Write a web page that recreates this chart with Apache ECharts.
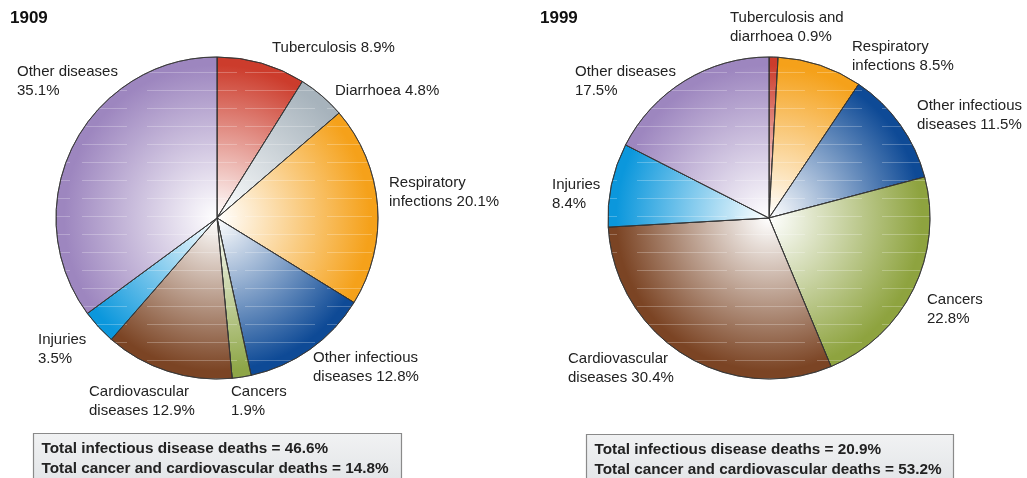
<!DOCTYPE html>
<html>
<head>
<meta charset="utf-8">
<script src="https://cdn.jsdelivr.net/npm/echarts@6/dist/echarts.min.js"></script>
<style>
  html, body { margin: 0; padding: 0; background: #fff; }
  #chart { width: 1027px; height: 478px; }
</style>
</head>
<body>
<div id="chart"></div>
<script>
// 1909
var names1909 = ['Tuberculosis', 'Diarrhoea', 'Respiratory infections', 'Other infectious diseases', 'Cancers', 'Cardiovascular diseases', 'Injuries', 'Other diseases'];
var labels1909 = ['Tuberculosis', 'Diarrhoea', 'Respiratory\ninfections', 'Other infectious\ndiseases', 'Cancers', 'Cardiovascular\ndiseases', 'Injuries', 'Other diseases'];
var seps1909 = [' ', ' ', ' ', ' ', '\n', ' ', '\n', '\n'];
var values1909 = [8.9, 4.8, 20.1, 12.8, 1.9, 12.9, 3.5, 35.1];
var colors1909 = ['#cc3c2c', '#a7b3bc', '#f5a11a', '#0e4a96', '#8ea647', '#7b4424', '#0b97dc', '#9d86bf'];
var totals1909 = ['Total infectious disease deaths = 46.6%', 'Total cancer and cardiovascular deaths = 14.8%'];

// 1999
var names1999 = ['Tuberculosis and diarrhoea', 'Respiratory infections', 'Other infectious diseases', 'Cancers', 'Cardiovascular diseases', 'Injuries', 'Other diseases'];
var labels1999 = ['Tuberculosis and\ndiarrhoea', 'Respiratory\ninfections', 'Other infectious\ndiseases', 'Cancers', 'Cardiovascular\ndiseases', 'Injuries', 'Other diseases'];
var seps1999 = [' ', ' ', ' ', '\n', ' ', '\n', '\n'];
var values1999 = [0.9, 8.5, 11.5, 22.8, 30.4, 8.4, 17.5];
var colors1999 = ['#cc3c2c', '#f5a11a', '#0e4a96', '#8ea33f', '#7b4424', '#0b97dc', '#9d86bf'];
var totals1999 = ['Total infectious disease deaths = 20.9%', 'Total cancer and cardiovascular deaths = 53.2%'];

// label top-left positions
var pos1909 = [[272, 38], [335, 81], [389, 173], [313, 348], [231, 382], [89, 382], [38, 330], [17, 62]];
var pos1999 = [[730, 8], [852, 37], [917, 96], [927, 290], [568, 349], [552, 175], [575, 62]];

var R = 161;
var C1 = [217, 218];
var C2 = [769, 218];
var FONT = 'Liberation Sans, Arial, sans-serif';

var decal = {
    symbol: 'rect',
    symbolSize: 1,
    dashArrayX: [[70, 12, 45, 20, 90, 8]],
    dashArrayY: [1, 17],
    color: 'rgba(255,255,255,0.25)'
};

function buildData(names, values, colors, c) {
    var out = [];
    for (var i = 0; i < names.length; i++) {
        out.push({
            name: names[i],
            value: values[i],
            itemStyle: {
                color: {
                    type: 'radial', x: c[0], y: c[1], r: R, global: true,
                    colorStops: [
                        { offset: 0, color: '#ffffff' },
                        { offset: 0.12, color: echarts.color.lerp(0.12, ['#ffffff', colors[i]]) },
                        { offset: 0.95, color: colors[i] },
                        { offset: 1, color: colors[i] }
                    ]
                },
                decal: decal
            }
        });
    }
    return out;
}

function buildLabels(labels, seps, values, pos) {
    var out = [];
    for (var i = 0; i < labels.length; i++) {
        out.push({
            type: 'text',
            left: pos[i][0],
            top: pos[i][1],
            style: {
                text: labels[i] + seps[i] + values[i].toFixed(1) + '%',
                fontFamily: FONT,
                fontSize: 15,
                lineHeight: 19,
                fill: '#222'
            }
        });
    }
    return out;
}

function buildBox(x, y, w, lines) {
    return [{
        type: 'rect',
        shape: { x: x, y: y, width: w, height: 60 },
        style: {
            fill: {
                type: 'linear', x: 0, y: 0, x2: 0, y2: 1,
                colorStops: [{ offset: 0, color: '#f1f2f3' }, { offset: 1, color: '#dfe2e5' }]
            },
            stroke: '#8a8a8a',
            lineWidth: 1.2
        }
    }, {
        type: 'text',
        left: x + 8,
        top: y + 5,
        style: {
            text: lines.join('\n'),
            fontFamily: FONT,
            fontSize: 15.3,
            fontWeight: 'bold',
            lineHeight: 20,
            fill: '#222'
        }
    }];
}

var chart = echarts.init(document.getElementById('chart'));

var pieBase = {
    type: 'pie',
    radius: R,
    startAngle: 90,
    clockwise: true,
    silent: true,
    animation: false,
    label: { show: false },
    labelLine: { show: false },
    itemStyle: { borderColor: '#333', borderWidth: 0.8 }
};

var graphics = [
    { type: 'text', left: 10, top: 10, style: { text: '1909', fontFamily: FONT, fontSize: 17, fontWeight: 'bold', fill: '#111' } },
    { type: 'text', left: 540, top: 10, style: { text: '1999', fontFamily: FONT, fontSize: 17, fontWeight: 'bold', fill: '#111' } }
]
    .concat(buildLabels(labels1909, seps1909, values1909, pos1909))
    .concat(buildLabels(labels1999, seps1999, values1999, pos1999))
    .concat(buildBox(33.5, 433.5, 368, totals1909))
    .concat(buildBox(586.5, 434.5, 367, totals1999));

chart.setOption({
    animation: false,
    series: [
        Object.assign({}, pieBase, { center: C1, data: buildData(names1909, values1909, colors1909, C1) }),
        Object.assign({}, pieBase, { center: C2, data: buildData(names1999, values1999, colors1999, C2) })
    ],
    graphic: graphics
});
</script>
</body>
</html>
